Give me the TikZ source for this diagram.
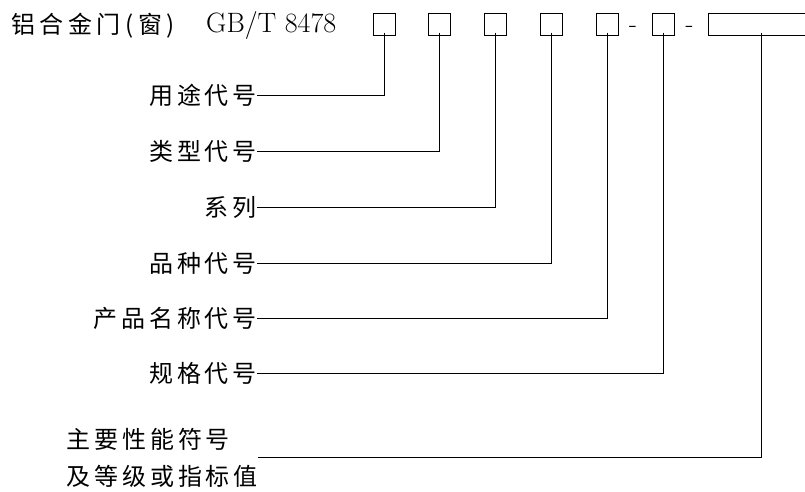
\documentclass[tikz,border=0pt]{standalone}
\usepackage{fontspec}
\newfontfamily\cjk{Noto Sans CJK SC}
\begin{document}
\begin{tikzpicture}[x=1pt,y=-1pt,
  box/.style={draw, line width=1pt, minimum width=22pt, minimum height=22pt, inner sep=0pt},
  lab/.style={anchor=east, inner sep=0pt, font=\fontsize{24}{34}\cjk\addfontfeature{LetterSpace=16}},
  lead/.style={line width=1pt}]
\clip (0,0) rectangle (805,491);
% title line
\node[anchor=west, inner sep=0pt, font=\fontsize{24}{30}\cjk\addfontfeature{LetterSpace=19}] (title) at (11,26) {铝合金门(窗)};
\node[anchor=base west, inner sep=0pt, font=\fontsize{28}{30}\selectfont] (std) at (206,32) {GB/T 8478};
\node[box] (box1) at (384,24){};
\node[box] (box2) at (439.5,24){};
\node[box] (box3) at (495.5,24){};
\node[box] (box4) at (551.3,24){};
\node[box] (box5) at (607.3,24){};
\node[anchor=base, inner sep=0pt, font=\fontsize{26}{30}\selectfont] (dash1) at (633,32){-};
\node[box] (box6) at (663.3,24){};
\node[anchor=base, inner sep=0pt, font=\fontsize{26}{30}\selectfont] (dash2) at (689.5,32){-};
\node[box, minimum width=106pt] (box7) at (761.5,24){};
% labels
\node[lab] (lab1) at (257,95){用途代号};
\node[lab] (lab2) at (257,151){类型代号};
\node[lab] (lab3) at (257,207){系列};
\node[lab] (lab4) at (257,263){品种代号};
\node[lab] (lab5) at (257,318.5){产品名称代号};
\node[lab] (lab6) at (257,373.5){规格代号};
\node[lab, align=left, font=\fontsize{24}{37}\cjk\addfontfeature{LetterSpace=16}] (lab7) at (258,457.5){主要性能符号\\及等级或指标值};
% leaders
\draw[lead] ([yshift=3]box1.south) |- (lab1.east);
\draw[lead] ([yshift=3]box2.south) |- (lab2.east);
\draw[lead] ([yshift=3]box3.south) |- (lab3.east);
\draw[lead] ([yshift=3]box4.south) |- (lab4.east);
\draw[lead] ([yshift=3]box5.south) |- (lab5.east);
\draw[lead] ([yshift=3]box6.south) |- (lab6.east);
\draw[lead] ([yshift=3]box7.south) |- (lab7.east);
\end{tikzpicture}
\end{document}
